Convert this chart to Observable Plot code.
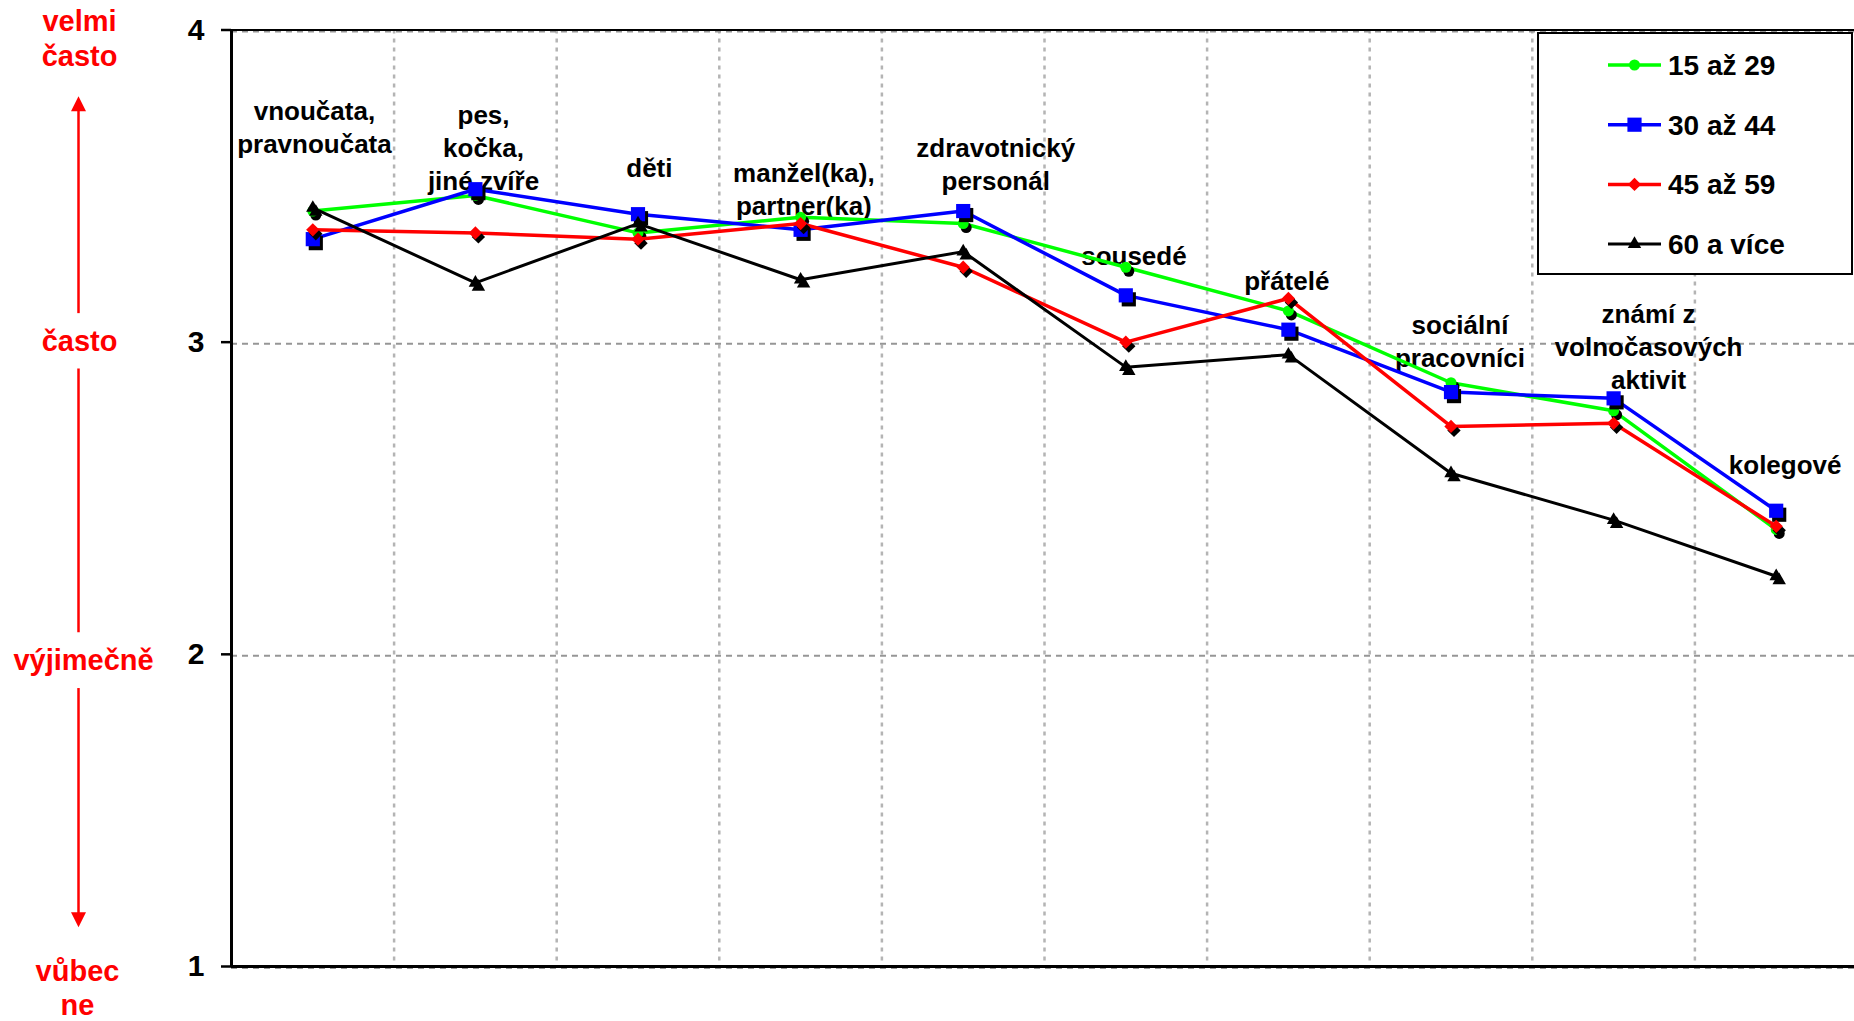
<!DOCTYPE html>
<html><head><meta charset="utf-8">
<script src="https://cdn.jsdelivr.net/npm/d3@7"></script>
<script src="https://cdn.jsdelivr.net/npm/@observablehq/plot@0.6"></script>
<style>
html,body{margin:0;padding:0;background:#fff;}
#wrap{position:relative;width:1854px;height:1021px;overflow:hidden;font-family:"Liberation Sans",Arial,sans-serif;}
#legend{position:absolute;left:1537px;top:32px;width:312px;height:239px;border:2px solid #000;background:#fff;}
#legend svg{display:block;}
</style></head><body><div id="wrap"></div>
<script>
// ---- data ----
const categories = ["vnoučata,\npravnoučata", "pes,\nkočka,\njiné zvíře", "děti", "manžel(ka),\npartner(ka)", "zdravotnický\npersonál", "sousedé", "přátelé", "sociální\npracovníci", "známí z\nvolnočasových\naktivit", "kolegové"];
const seriesNames = ["15 až 29", "30 až 44", "45 až 59", "60 a více"];
const values15to29 = [3.42, 3.47, 3.35, 3.40, 3.38, 3.24, 3.10, 2.87, 2.78, 2.40];
const values30to44 = [3.33, 3.49, 3.41, 3.36, 3.42, 3.15, 3.04, 2.84, 2.82, 2.46];
const values45to59 = [3.36, 3.35, 3.33, 3.38, 3.24, 3.00, 3.14, 2.73, 2.74, 2.41];
const values60plus = [3.43, 3.19, 3.38, 3.20, 3.29, 2.92, 2.96, 2.58, 2.43, 2.25];
const yTicks = [1, 2, 3, 4];
const scaleWords = ["velmi\nčasto", "často", "výjimečně", "vůbec\nne"];
const scaleLevels = [4, 3, 2, 1];
// category label anchors (value level of the last text line, shift in category units)
const labelLevel = [3.606, 3.486, 3.529, 3.406, 3.486, 3.246, 3.168, 2.920, 2.851, 2.578];
const labelShift = [0.01, 0.05, 0.07, 0.02, 0.2, 0.05, -0.01, 0.055, 0.215, 0.055];
// red scale arrows (value levels)
const arrowShafts = [{from: 3.093, to: 3.76}, {from: 2.916, to: 2.071}, {from: 1.892, to: 1.15}];
const arrowUpTip = [3.788];
const arrowDownTip = [1.126];

// ---- styles ----
const allValues = [values15to29, values30to44, values45to59, values60plus];
const colors = ["#00ff00", "#0000ff", "#ff0000", "#000000"];
const symbolNames = ["circle", "square", "diamond2", "triangle"];
const d3Symbols = [d3.symbolCircle, d3.symbolSquare, d3.symbolDiamond2, d3.symbolTriangle];
const radii = [5.5, 8, 6, 5];
const lineWidths = [3.5, 3.5, 3.5, 3];
const FONT = "'Liberation Sans', Arial, sans-serif";

const rows = [];
allValues.forEach((vals, s) => vals.forEach((v, i) => rows.push({s, i, x: i + 0.5, v})));

const triUp = {draw(ctx) { ctx.moveTo(0, 0); ctx.lineTo(-7.5, 15); ctx.lineTo(7.5, 15); ctx.closePath(); }};
const triDown = {draw(ctx) { ctx.moveTo(0, 0); ctx.lineTo(-7.5, -15); ctx.lineTo(7.5, -15); ctx.closePath(); }};

const redText = {text: d => d, frameAnchor: "left", textAnchor: "middle", fontSize: 29, fontWeight: "bold", fill: "#ff0000"};

const marks = [
  // grid
  Plot.ruleX(d3.range(1, 10), {stroke: "#b4b4b4", strokeWidth: 2.5, strokeDasharray: "4,5"}),
  Plot.ruleY([2, 3, 4, 1], {stroke: "#969696", strokeWidth: 2, strokeDasharray: "6,5", dy: 1.5}),
  // plot area border
  Plot.ruleY([4], {stroke: "#000", strokeWidth: 2}),
  Plot.ruleY([1], {stroke: "#000", strokeWidth: 3}),
  Plot.ruleX([0], {stroke: "#000", strokeWidth: 3}),
  // category labels
  Plot.text(categories, {
    x: (d, i) => i + 0.5 + labelShift[i], y: (d, i) => labelLevel[i], text: d => d,
    lineAnchor: "bottom", lineHeight: 1.27, fontSize: 26, fontWeight: "bold", fill: "#000"
  }),
  // red scale words
  Plot.text([scaleWords[0]], {...redText, y: [scaleLevels[0]], dx: -152, dy: 35.5, lineAnchor: "bottom", lineHeight: 1.18}),
  Plot.text([scaleWords[1]], {...redText, y: [scaleLevels[1]], dx: -152, dy: 0, lineAnchor: "middle", lineHeight: 1}),
  Plot.text([scaleWords[2]], {...redText, y: [scaleLevels[2]], dx: -148, dy: 6, lineAnchor: "middle", lineHeight: 1}),
  Plot.text([scaleWords[3]], {...redText, y: [scaleLevels[3]], dx: -154, dy: -10, lineAnchor: "top", lineHeight: 1.18}),
  // red arrows
  Plot.link(arrowShafts, {x1: 0, x2: 0, y1: "from", y2: "to", stroke: "#ff0000", strokeWidth: 2.5, dx: -153}),
  Plot.dot(arrowUpTip, {x: 0, y: d => d, symbol: triUp, fill: "#ff0000", dx: -153}),
  Plot.dot(arrowDownTip, {x: 0, y: d => d, symbol: triDown, fill: "#ff0000", dx: -153})
];

for (let s = 0; s < 4; s++) {
  const d = rows.filter(r => r.s === s);
  marks.push(Plot.line(d, {x: "x", y: "v", stroke: colors[s], strokeWidth: lineWidths[s]}));
  marks.push(Plot.dot(d, {x: "x", y: "v", symbol: symbolNames[s], r: radii[s], fill: "#000", dx: 3, dy: 4}));
  marks.push(Plot.dot(d, {x: "x", y: "v", symbol: symbolNames[s], r: radii[s], fill: colors[s]}));
}

const hasAxisMark = typeof Plot.axisY === "function";
if (hasAxisMark) {
  marks.push(Plot.axisY({ticks: yTicks, tickSize: 10, tickPadding: 17, tickFormat: d => String(d), fontSize: 30, fontWeight: "bold", strokeWidth: 2.5, label: null}));
}

const chart = Plot.plot({
  width: 1854, height: 1021,
  marginLeft: 231, marginRight: 0, marginTop: 29.5, marginBottom: 55,
  style: {fontFamily: FONT, fontSize: "30px", fontWeight: "bold", background: "#fff", overflow: "visible", color: "#000"},
  x: {domain: [0, 10], range: [231, 1857], axis: null},
  y: hasAxisMark ? {domain: [1, 4]} : {domain: [1, 4], ticks: yTicks, tickSize: 10, tickPadding: 17, tickFormat: d => String(d), label: null},
  marks
});
document.getElementById("wrap").appendChild(chart);

// make sure the y tick labels are large and bold
d3.select(chart).selectAll("text").filter(function () { return ["1", "2", "3", "4"].includes(this.textContent.trim()); })
  .style("font-size", "30px").style("font-weight", "bold");

// legend (inside the plot area, top right)
const leg = d3.select("#wrap").append("div").attr("id", "legend");
const lsvg = leg.append("svg").attr("width", 312).attr("height", 239);
seriesNames.forEach((name, s) => {
  const g = lsvg.append("g").attr("transform", `translate(0,${31 + s * 59.7})`);
  g.append("line").attr("x1", 69).attr("x2", 122).attr("stroke", colors[s]).attr("stroke-width", lineWidths[s]);
  g.append("path").attr("transform", "translate(95.5,0)").attr("d", d3.symbol(d3Symbols[s], radii[s] * radii[s] * Math.PI)()).attr("fill", colors[s]);
  g.append("text").attr("x", 129).attr("dy", "0.35em").attr("font-family", FONT).attr("font-size", 28).attr("font-weight", "bold").attr("fill", "#000").text(name);
});
</script>
</body></html>
